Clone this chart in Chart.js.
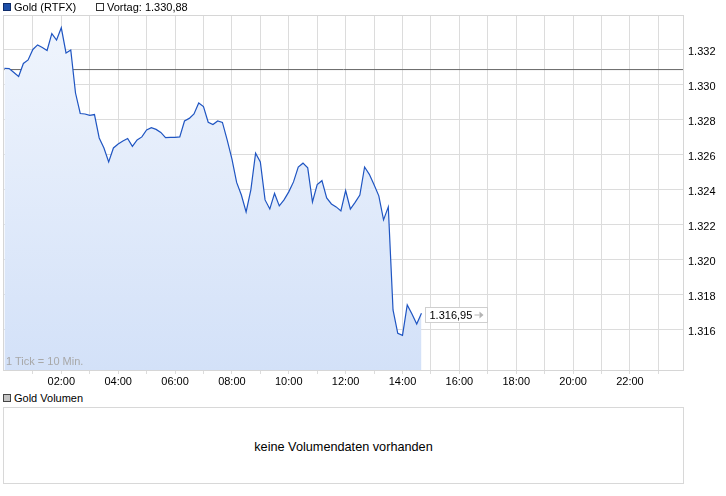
<!DOCTYPE html>
<html>
<head>
<meta charset="utf-8">
<script src="https://cdn.jsdelivr.net/npm/chart.js@4.4.0/dist/chart.umd.min.js"></script>
<style>
  body { margin: 0; background: #fff; font-family: Arial, "Liberation Sans", sans-serif; font-size: 11px; color: #000; }
  #wrap { position: relative; width: 726px; height: 496px; overflow: hidden; }
  #chart { position: absolute; left: 0; top: 0; }
  .sq { position: absolute; width: 6px; height: 6px; border: 1px solid #333; }
  .txt { position: absolute; line-height: 12px; white-space: nowrap; }
  #volbox { position: absolute; left: 3px; top: 407px; width: 681px; height: 77px; box-sizing: border-box;
            border: 1px solid #d8d8d8; display: flex; align-items: center; justify-content: center;
            font-size: 12.7px; padding-top: 3px; }
</style>
</head>
<body>
<div id="wrap">
  <canvas id="chart" width="726" height="390"></canvas>
  <div class="sq" style="left:3px;top:3px;background:#1d4fa8;border-color:#0f2c6a"></div>
  <div class="txt" style="left:14px;top:1px">Gold (RTFX)</div>
  <div class="sq" style="left:96px;top:3px;background:#fff"></div>
  <div class="txt" style="left:107px;top:1px">Vortag: 1.330,88</div>
  <div class="txt" style="left:6px;top:355px;color:#a8a8a8">1 Tick = 10 Min.</div>
  <div class="sq" style="left:3px;top:394px;background:#c4c4c4;border-color:#444"></div>
  <div class="txt" style="left:14px;top:392px">Gold Volumen</div>
  <div id="volbox">keine Volumendaten vorhanden</div>
</div>
<script>
// Kursdaten, alle 10 Minuten ab 00:00
const stepMinutes = 10;
const prices = [
  1330.95, 1330.94, 1330.71, 1330.49, 1331.23, 1331.43, 1332.03, 1332.29, 1332.14, 1331.97,
  1332.94, 1332.57, 1333.27, 1331.83, 1332.0, 1329.54, 1328.37, 1328.34, 1328.26, 1328.31,
  1326.97, 1326.4, 1325.6, 1326.4, 1326.63, 1326.8, 1326.94, 1326.49, 1326.86, 1327.03,
  1327.43, 1327.56, 1327.46, 1327.29, 1326.99, 1327.01, 1327.01, 1327.03, 1327.94, 1328.09,
  1328.34, 1328.97, 1328.77, 1327.87, 1327.74, 1327.94, 1327.86, 1326.86, 1325.77, 1324.43,
  1323.71, 1322.74, 1324.0, 1326.1, 1325.6, 1323.43, 1322.91, 1323.8, 1323.09, 1323.43,
  1323.89, 1324.46, 1325.31, 1325.53, 1325.26, 1323.31, 1324.31, 1324.53, 1323.54, 1323.2,
  1323.03, 1322.8, 1323.96, 1322.91, 1323.29, 1323.71, 1325.31, 1324.89, 1324.29, 1323.66,
  1322.29, 1323.03, 1317.14, 1315.8, 1315.69, 1317.43, 1316.91, 1316.34, 1316.95
];
const vortag = 1330.88;
const yTicks = [1316, 1318, 1320, 1322, 1324, 1326, 1328, 1330, 1332];
const xTicks = [1, 2, 3, 4, 5, 6, 7, 8, 9, 10, 11, 12, 13, 14, 15, 16, 17, 18, 19, 20, 21, 22, 23];

const xMin = -0.05, xMax = 23.9;

// deutsche Zahlenformatierung
function fmt(v, dec) {
  const parts = v.toFixed(dec).split(".");
  const int = parts[0].replace(/\B(?=(\d{3})+(?!\d))/g, ".");
  return dec ? int + "," + parts[1] : int;
}

const points = prices.map((p, i) => ({ x: i * stepMinutes / 60, y: p }));

// Rahmen um den Chart und Kursbox am Ende
const extras = {
  id: "extras",
  afterDatasetsDraw(chart) {
    const c = chart.ctx;
    const a = chart.chartArea;
    c.save();
    c.strokeStyle = "#d6d6d6";
    c.lineWidth = 1;
    c.strokeRect(Math.round(a.left) + 0.5, Math.round(a.top) + 0.5,
      Math.round(a.right - a.left) - 1, Math.round(a.bottom - a.top) - 1);

    const last = points[points.length - 1];
    const xp = chart.scales.x.getPixelForValue(last.x);
    const yp = chart.scales.y.getPixelForValue(last.y);
    const bx = Math.round(xp) + 4.5, by = Math.round(yp) - 5.5;
    c.fillStyle = "#fff";
    c.fillRect(bx, by, 62, 15);
    c.strokeStyle = "#cfcfcf";
    c.strokeRect(bx, by, 62, 15);
    c.fillStyle = "#000";
    c.font = "11px Arial, 'Liberation Sans', sans-serif";
    c.textBaseline = "alphabetic";
    c.fillText(fmt(last.y, 2), bx + 4, by + 11.5);
    // kleiner Pfeil
    c.strokeStyle = "#b4b4b4";
    c.fillStyle = "#b4b4b4";
    c.beginPath();
    c.moveTo(bx + 49, by + 7.5);
    c.lineTo(bx + 54, by + 7.5);
    c.stroke();
    c.beginPath();
    c.moveTo(bx + 54, by + 4);
    c.lineTo(bx + 58, by + 7.5);
    c.lineTo(bx + 54, by + 11);
    c.closePath();
    c.fill();
    c.restore();
  }
};

const ctx = document.getElementById("chart").getContext("2d");
new Chart(ctx, {
  type: "line",
  data: {
    datasets: [{
      data: points,
      borderColor: "#1f55c2",
      borderWidth: 1.2,
      pointRadius: 0,
      tension: 0,
      fill: "start",
      backgroundColor: (context) => {
        const a = context.chart.chartArea;
        if (!a) return "#e4edfb";
        const g = context.chart.ctx.createLinearGradient(0, a.top, 0, a.bottom);
        g.addColorStop(0, "#f0f5fd");
        g.addColorStop(1, "#d3e1f8");
        return g;
      }
    }, {
      data: [{ x: xMin, y: vortag }, { x: xMax, y: vortag }],
      borderColor: "#666666",
      borderWidth: 1,
      pointRadius: 0,
      fill: false
    }]
  },
  options: {
    responsive: false,
    animation: false,
    layout: { padding: { left: 3, top: 15, right: 0, bottom: 0 } },
    plugins: { legend: { display: false }, tooltip: { enabled: false } },
    scales: {
      x: {
        type: "linear",
        min: xMin,
        max: xMax,
        afterBuildTicks: (s) => { s.ticks = xTicks.map(v => ({ value: v })); },
        afterFit: (s) => { s.height = 19; },
        grid: { color: "#dcdcdc", tickLength: 3 },
        border: { display: false },
        ticks: {
          autoSkip: false,
          maxRotation: 0,
          padding: 1,
          color: "#000",
          font: { family: "Arial, 'Liberation Sans', sans-serif", size: 11 },
          callback: (v) => (v % 2 === 0 ? String(v).padStart(2, "0") + ":00" : "")
        }
      },
      y: {
        position: "right",
        min: 1313.65,
        max: 1334,
        afterBuildTicks: (s) => { s.ticks = yTicks.map(v => ({ value: v })); },
        afterFit: (s) => { s.width = 42; },
        grid: { color: "#dcdcdc", drawTicks: false },
        border: { display: false },
        ticks: {
          padding: 4,
          labelOffset: 2,
          color: "#000",
          font: { family: "Arial, 'Liberation Sans', sans-serif", size: 11 },
          callback: (v) => fmt(v, 0)
        }
      }
    }
  },
  plugins: [extras]
});
</script>
</body>
</html>
